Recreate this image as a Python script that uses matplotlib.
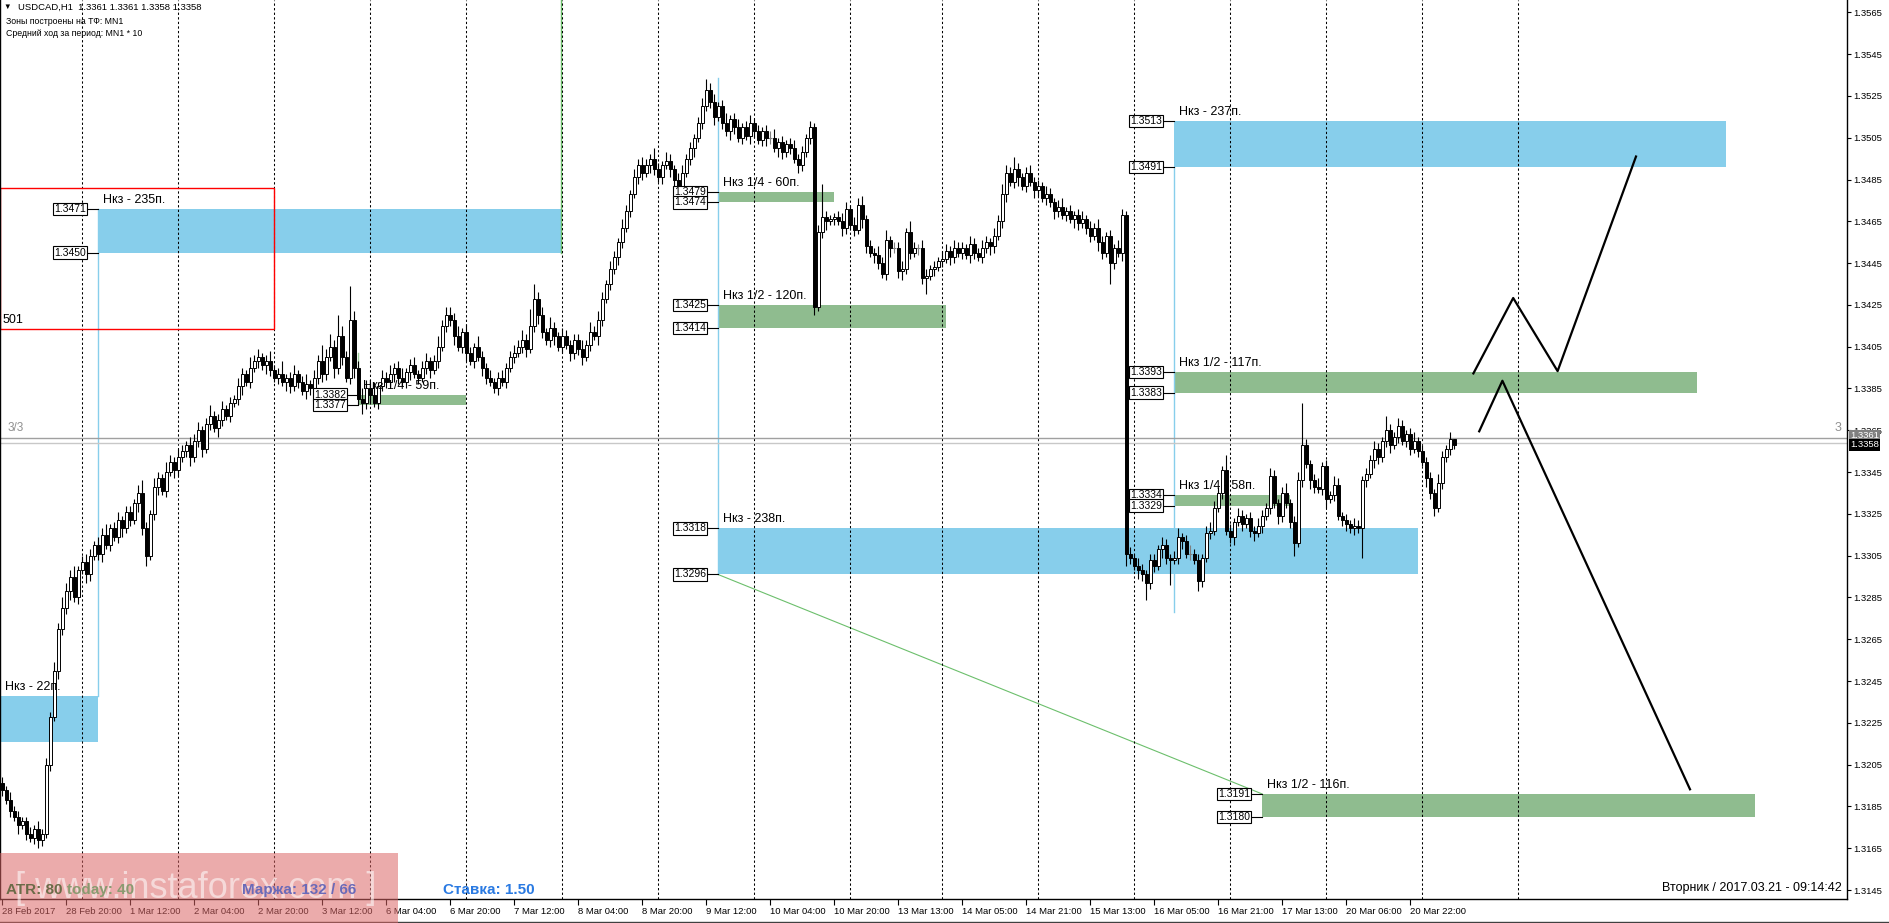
import matplotlib
matplotlib.use("Agg")
import matplotlib.pyplot as plt
from matplotlib.patches import Rectangle
import numpy as np

plt.rcParams['font.family'] = ['Liberation Sans', 'DejaVu Sans']

# ---------------- data ----------------
first_open = 196  # pips above 1.3000
close_pips = [
    193,188,183,180,176,178,172,170,174,169,172,205,228,250,270,280,
    288,295,285,298,302,296,305,310,306,315,310,318,314,322,318,326,
    322,330,335,318,305,325,338,342,336,345,350,346,352,355,358,352,
    360,365,356,368,372,366,370,375,372,378,380,386,392,388,395,398,
    400,396,398,394,390,392,388,390,386,392,388,384,387,385,390,398,
    392,400,405,395,410,400,390,418,395,380,378,385,382,378,386,390,
    388,392,395,390,388,393,396,392,390,395,398,394,398,405,415,420,
    418,410,405,412,402,398,405,400,395,390,388,385,390,388,395,400,
    402,405,408,404,415,428,420,412,408,414,410,405,410,406,402,408,
    404,400,406,412,410,418,428,435,442,448,455,462,470,478,486,492,
    488,492,495,490,486,492,494,490,485,480,488,495,500,505,512,520,
    528,522,515,520,512,508,514,510,505,510,506,512,508,504,508,505,
    505,500,503,498,502,500,495,492,498,505,510,424,460,467,465,466,
    467,465,462,471,463,461,473,466,453,450,449,445,440,456,452,452,
    441,442,460,450,452,452,438,439,442,443,446,447,451,448,452,450,
    452,449,454,450,448,452,455,453,458,465,478,488,484,490,486,482,
    488,484,480,482,476,478,474,470,472,468,470,466,468,464,466,462,
    458,462,455,450,458,445,452,450,468,306,304,300,298,296,292,303,
    300,308,310,304,303,304,314,312,306,306,303,293,304,316,317,328,
    335,346,317,314,321,324,320,323,317,316,319,324,328,343,330,324,
    335,330,321,311,341,358,349,341,338,337,348,332,334,339,324,322,
    320,318,319,318,341,344,351,356,352,360,365,358,362,367,360,363,
    356,360,355,350,342,335,328,340,352,356,361,358,
]
upper_wick = [
    3,2,4,2,3,2,2,3,2,4,2,3,2,4,3,5,
    4,3,5,2,3,4,3,2,4,3,5,2,3,4,2,3,
    3,2,4,6,3,2,4,3,2,5,3,2,4,3,2,4,
    3,4,2,3,5,2,3,4,2,3,2,4,3,2,5,3,
    4,2,3,5,2,3,6,2,3,4,2,3,5,2,4,3,
    8,4,6,3,10,5,3,16,4,3,5,4,3,6,2,4,
    3,4,2,3,5,2,3,4,2,3,4,2,3,5,3,4,
    4,3,5,2,4,3,2,5,3,2,4,2,3,4,2,3,
    4,3,5,3,8,7,3,4,2,5,3,2,4,3,2,3,
    3,4,2,5,3,4,3,2,4,3,2,4,3,2,4,3,
    4,3,2,5,3,2,4,3,2,3,4,2,3,2,3,4,
    5,3,4,2,3,5,2,3,4,2,3,4,2,3,2,3,
    3,4,2,3,2,3,4,2,3,2,3,2,3,16,3,2,
    2,3,4,3,2,4,3,4,2,3,2,4,3,5,2,3,
    3,4,2,5,3,2,4,3,2,3,2,4,3,2,4,3,
    3,2,4,3,2,4,3,2,4,3,5,4,3,6,3,2,
    3,4,2,3,2,4,3,2,3,4,2,3,2,3,4,2,
    3,2,4,3,2,3,2,4,3,2,3,2,4,3,2,3,
    3,2,4,3,2,3,4,2,3,4,2,3,2,3,4,3,
    3,2,7,3,2,4,3,2,3,2,4,3,2,4,3,2,
    3,5,2,3,4,20,3,2,3,4,2,3,2,4,3,2,
    3,2,4,3,2,3,2,4,3,2,7,3,2,4,3,2,
    3,4,2,3,2,3,2,4,3,2,3,0,
]
lower_wick = [
    3,2,3,2,4,2,3,2,3,4,3,2,3,2,4,3,
    3,4,2,3,2,4,3,2,3,4,2,3,2,3,4,2,
    3,2,4,3,5,2,3,4,2,3,2,4,3,2,3,4,
    2,3,4,2,3,2,4,3,2,3,2,3,4,2,3,2,
    3,2,4,3,2,3,2,4,3,2,3,2,4,3,2,3,
    4,3,2,5,3,4,2,3,5,3,5,3,4,2,3,2,
    3,2,4,3,2,3,4,2,3,2,3,4,2,3,2,3,
    3,4,2,3,4,2,3,2,4,3,2,2,3,2,3,2,
    3,2,3,4,2,3,4,3,2,3,4,2,3,2,4,3,
    3,4,2,3,2,4,3,2,3,2,4,3,2,3,2,3,
    3,2,4,3,2,3,2,4,3,2,3,2,3,4,2,3,
    2,3,4,2,3,2,4,3,2,3,2,4,3,2,3,4,
    3,2,4,3,2,3,2,4,3,2,3,4,2,3,4,2,
    3,2,4,3,2,3,2,4,3,2,4,3,2,3,4,2,
    3,4,2,3,2,3,3,8,2,3,2,3,2,4,3,2,
    3,2,4,3,2,3,2,4,3,2,3,4,2,3,4,2,
    3,2,4,3,2,3,2,4,3,2,3,2,4,3,2,3,
    3,2,4,3,2,10,3,2,4,6,3,2,4,3,8,3,
    3,2,4,3,12,2,3,4,2,3,2,5,3,2,3,2,
    2,3,2,3,4,2,3,2,3,4,2,3,2,3,2,4,
    3,2,3,6,2,3,2,4,3,2,3,4,2,3,2,3,
    3,2,3,2,14,3,2,4,3,2,3,4,2,3,2,3,
    3,2,3,2,4,3,4,2,3,2,3,2,
]
date_labels = ['28 Feb 2017', '28 Feb 20:00', '1 Mar 12:00', '2 Mar 04:00', '2 Mar 20:00',
               '3 Mar 12:00', '6 Mar 04:00', '6 Mar 20:00', '7 Mar 12:00', '8 Mar 04:00',
               '8 Mar 20:00', '9 Mar 12:00', '10 Mar 04:00', '10 Mar 20:00', '13 Mar 13:00',
               '14 Mar 05:00', '14 Mar 21:00', '15 Mar 13:00', '16 Mar 05:00', '16 Mar 21:00',
               '17 Mar 13:00', '20 Mar 06:00', '20 Mar 22:00']
day_separators = [20, 44, 68, 92, 116, 140, 164, 188, 212, 235, 259, 283, 307, 331, 355, 379]
price_ticks = [1.3145, 1.3165, 1.3185, 1.3205, 1.3225, 1.3245, 1.3265, 1.3285, 1.3305, 1.3325,
               1.3345, 1.3365, 1.3385, 1.3405, 1.3425, 1.3445, 1.3465, 1.3485, 1.3505, 1.3525,
               1.3545, 1.3565]

zone_left = [24, -0.5, 89, 179, 179, 179, 293, 293, 293, 315]
zone_right = [139.75, 24, 116, 208, 236, 354, 431, 423.75, 322, 438.25]
zone_low = [1.3450, 1.3216, 1.3377, 1.3474, 1.3414, 1.3296, 1.3491, 1.3383, 1.3329, 1.3180]
zone_high = [1.3471, 1.3238, 1.3382, 1.3479, 1.3425, 1.3318, 1.3513, 1.3393, 1.3334, 1.3191]
zone_kind = ['blue', 'blue', 'green', 'green', 'green', 'blue', 'blue', 'green', 'green', 'green']
zone_text = ['Нкз - 235п.', 'Нкз - 22п.', 'Нкз 1/4 - 59п.', 'Нкз 1/4 - 60п.', 'Нкз 1/2 - 120п.',
             'Нкз - 238п.', 'Нкз - 237п.', 'Нкз 1/2 - 117п.', 'Нкз 1/4 - 58п.', 'Нкз 1/2 - 116п.']
zone_boxes = [True, False, True, True, True, True, True, True, True, True]

red_box = (-0.5, 68, 1.34135, 1.34809)   # left, right, low, high

path_up_x = [367.85, 377.8, 388.9, 408.5]
path_up_y = [1.33922, 1.34283, 1.33933, 1.34960]
path_dn_x = [369.3, 375.1, 422.0]
path_dn_y = [1.33645, 1.33887, 1.31932]

# ---------------- figure ----------------
W, H = 1889, 923
fig = plt.figure(figsize=(W / 100, H / 100), dpi=100)
fig.patch.set_facecolor('white')
ax = fig.add_axes([0, (H - 899) / H, 1847 / W, 899 / H])
ax.set_xlim(-0.5, 461.25)
ax.set_ylim(1.31407, 1.35709)

BLUE = '#87CEEB'
GREEN = '#8FBC8F'

# zones
for x0, x1, lo, hi, kind, txt, bx in zip(zone_left, zone_right, zone_low, zone_high,
                                          zone_kind, zone_text, zone_boxes):
    col = BLUE if kind == 'blue' else GREEN
    ax.add_patch(Rectangle((x0, lo), x1 - x0, hi - lo, fc=col, ec='none', zorder=1))
    ax.annotate(txt, (x0, hi), xytext=(5, 3), textcoords='offset pixels', fontsize=9,
                ha='left', va='bottom', zorder=7, annotation_clip=False)
    if bx:
        for p in (hi, lo):
            ax.plot([x0 - 2.5, x0], [p, p], color='black', lw=0.8, zorder=6)
            ax.annotate(f'{p:.4f}', (x0 - 2.5, p), xytext=(-2, 0), textcoords='offset pixels',
                        ha='right', va='center', fontsize=7.5,
                        bbox=dict(boxstyle='square,pad=0.12', fc='white', ec='black', lw=0.8),
                        zorder=7)

# red rectangle
ax.add_patch(Rectangle((red_box[0], red_box[2]), red_box[1] - red_box[0], red_box[3] - red_box[2],
                       fc='none', ec='red', lw=1, zorder=2.5))
ax.annotate('501', (red_box[0], red_box[2]), xytext=(3, 3), textcoords='offset pixels',
            fontsize=9, ha='left', va='bottom', zorder=7)

# vertical marker lines
ax.plot([24, 24], [1.3471, 1.3238], color=BLUE, lw=1, zorder=2)
ax.plot([179, 179], [1.35335, 1.3296], color=BLUE, lw=1, zorder=2)
ax.plot([293, 293], [1.3491, 1.3278], color=BLUE, lw=1, zorder=2)
ax.plot([139.75, 139.75], [1.3450, 1.3571], color='#6cbf6c', lw=1, zorder=2)
ax.plot([89, 89], [1.3382, 1.3402], color='#9fd09f', lw=1, zorder=2)
ax.plot([179, 315], [1.3296, 1.3191], color='#6cbf6c', lw=0.8, zorder=2)

# day separators
ax.vlines(day_separators, 1.31407, 1.35709, colors='black', lw=0.75,
          linestyles=(0, (2.2, 2.2)), zorder=2)

# bid/ask lines
ax.axhline(1.33615, color='#a0a0a0', lw=1, zorder=2)
ax.axhline(1.3359, color='#c8c8c8', lw=1, zorder=2)

# candles
c = 1.3 + np.array(close_pips, dtype=float) / 1e4
o = np.r_[1.3 + first_open / 1e4, c[:-1]]
top = np.maximum(o, c)
bot = np.minimum(o, c)
hi = top + np.array(upper_wick) / 1e4
lo = bot - np.array(lower_wick) / 1e4
idx = np.arange(len(c))
doji = np.isclose(o, c)
bull = (c > o) & ~doji
bear = (c < o) & ~doji
ax.vlines(idx[~doji], lo[~doji], hi[~doji], colors='black', lw=0.8, zorder=3)
ax.vlines(idx[doji], lo[doji], hi[doji], colors='#808080', lw=0.8, zorder=3)
ax.hlines(c[doji], idx[doji] - 0.4, idx[doji] + 0.4, colors='#808080', lw=0.8, zorder=3)
ax.bar(idx[bull], (c - o)[bull], bottom=o[bull], width=0.75, color='white',
       edgecolor='black', lw=0.7, zorder=4)
ax.bar(idx[bear], (o - c)[bear], bottom=c[bear], width=0.75, color='black',
       edgecolor='black', lw=0.7, zorder=4)

# forecast paths
ax.plot(path_up_x, path_up_y, color='black', lw=1.6, zorder=5)
ax.plot(path_dn_x, path_dn_y, color='black', lw=1.6, zorder=5)

# axes styling
for s in ('left', 'right', 'bottom'):
    ax.spines[s].set_color('black')
    ax.spines[s].set_linewidth(1)
ax.spines['top'].set_visible(False)
ax.yaxis.tick_right()
ax.set_yticks(price_ticks)
ax.set_yticklabels([f'{p:.4f}' for p in price_ticks], fontsize=6.8)
ax.tick_params(axis='y', direction='out', length=3, width=0.8, pad=1.5)
ax.set_xticks([16 * k for k in range(len(date_labels))])
ax.set_xticklabels(date_labels, fontsize=6.8, ha='left')
ax.tick_params(axis='x', direction='out', length=4, width=0.8, pad=1.5)

# misc texts in the plot
ax.text(8 / 1847, 1 - 428 / 899, '3/3', transform=ax.transAxes, fontsize=8.5,
        color='#909090', ha='left', va='center')
ax.text(1841 / 1847, 1 - 428 / 899, '3', transform=ax.transAxes, fontsize=9,
        color='#909090', ha='right', va='center')
ax.text(1842 / 1847, 1 - 888 / 899, 'Вторник / 2017.03.21 - 09:14:42', transform=ax.transAxes,
        fontsize=9, ha='right', va='center', zorder=8)

# right-side current price boxes
ax.annotate('1.3361', (1.0, 1.33625), xycoords=('axes fraction', 'data'), xytext=(3, 0),
            textcoords='offset pixels', fontsize=6.8, color='white', ha='left', va='center',
            bbox=dict(boxstyle='square,pad=0.15', fc='#808080', ec='none'), annotation_clip=False)
ax.annotate('1.3358', (1.0, 1.3358), xycoords=('axes fraction', 'data'), xytext=(3, 0),
            textcoords='offset pixels', fontsize=6.8, color='white', ha='left', va='center',
            bbox=dict(boxstyle='square,pad=0.15', fc='black', ec='none'), annotation_clip=False)

# header
fig.text(3 / W, 1 - 7 / H, '▼', fontsize=5.5, ha='left', va='center')
fig.text(18 / W, 1 - 7 / H, 'USDCAD,H1  1.3361 1.3361 1.3358 1.3358', fontsize=6.8,
         ha='left', va='center')
fig.text(6 / W, 1 - 21 / H, 'Зоны построены на ТФ: MN1', fontsize=6.3, ha='left', va='center')
fig.text(6 / W, 1 - 33 / H, 'Средний ход за период: MN1 * 10', fontsize=6.3, ha='left', va='center')

# bottom line of window
fig.add_artist(plt.Line2D([0, 1], [1 - 921.5 / H] * 2, color='#404040', lw=1))

# watermark block
fig.add_artist(Rectangle((0, 0), 398 / W, (H - 853) / H, transform=fig.transFigure,
                         fc=(0.86, 0.40, 0.40), alpha=0.55, ec='none', zorder=10))
fig.text(196 / W, 1 - 888 / H, '[ www.instaforex.com ]', fontsize=26, color='white',
         alpha=0.55, ha='center', va='center', zorder=11)
fig.text(6 / W, 1 - 890 / H, 'ATR: 80', fontsize=11, fontweight='bold', color='#6b6b48',
         ha='left', va='center', zorder=12)
fig.text(67 / W, 1 - 890 / H, 'today: 40', fontsize=11, fontweight='bold', color='#8a9a70',
         ha='left', va='center', zorder=12)
fig.text(242 / W, 1 - 890 / H, 'Маржа: 132 / 66', fontsize=11, fontweight='bold',
         color='#6a6ab8', ha='left', va='center', zorder=12)
fig.text(443 / W, 1 - 890 / H, 'Ставка: 1.50', fontsize=11, fontweight='bold',
         color='#2a7ae2', ha='left', va='center', zorder=12)

fig.savefig('out.png', dpi=100, facecolor='white')
